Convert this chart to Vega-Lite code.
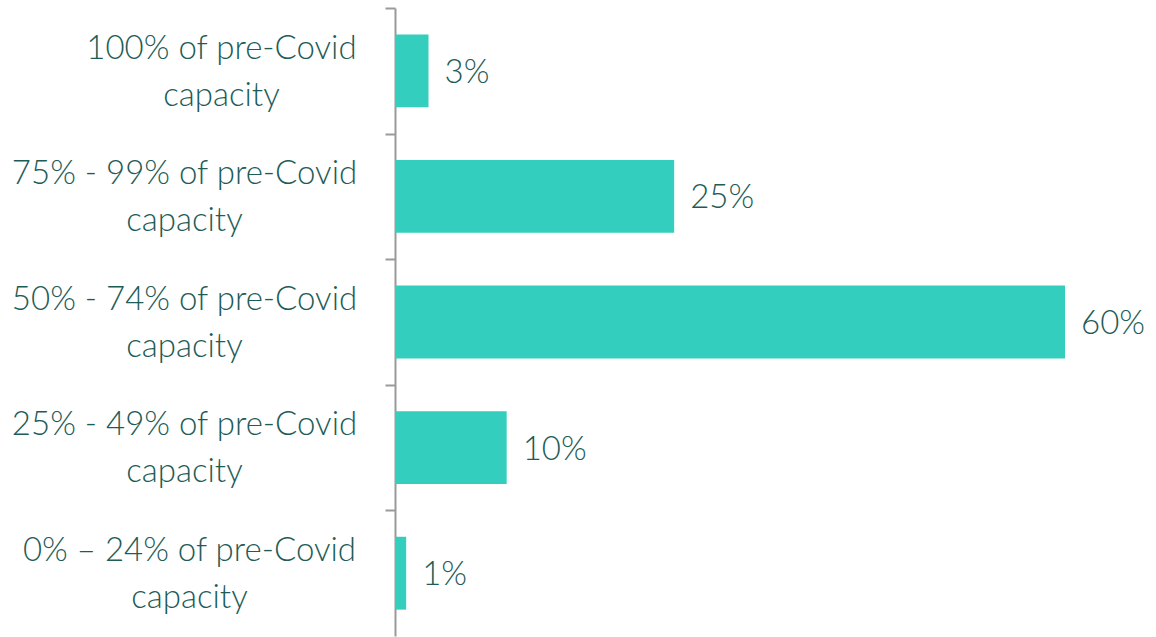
{
  "$schema": "https://vega.github.io/schema/vega-lite/v6.json",
  "autosize": {"type": "none"},
  "padding": {"left": 395, "top": 8, "right": 91, "bottom": 1},
  "width": 670,
  "height": 628,
  "background": "white",
  "config": {"view": {"stroke": null}, "font": "Lato"},
  "data": {"values": [
    {"cat": "100% of pre-Covid|capacity", "share": 0.03},
    {"cat": "75% - 99% of pre-Covid|capacity", "share": 0.25},
    {"cat": "50% - 74% of pre-Covid|capacity", "share": 0.60},
    {"cat": "25% - 49% of pre-Covid|capacity", "share": 0.10},
    {"cat": "0% – 24% of pre-Covid|capacity", "share": 0.01}
  ]},
  "encoding": {
    "y": {
      "field": "cat", "type": "nominal", "sort": null,
      "scale": {"paddingInner": 0.42, "paddingOuter": 0.21},
      "axis": {
        "title": null,
        "domainColor": "#9a9a9a", "domainWidth": 2,
        "tickColor": "#9a9a9a", "tickWidth": 2, "tickSize": 10,
        "tickOffset": -62.8,
        "labelOffset": 40,
        "labelExpr": "split(datum.label, '|')",
        "labelFont": "Lato", "labelFontSize": 33, "labelFontWeight": 300, "labelColor": "#1d5c57",
        "labelLineHeight": 47, "labelLimit": 0,
        "labelAlign": "center",
        "labelPadding": {
          "condition": [
            {"test": "indexof(datum.value, '100%') == 0", "value": 164},
            {"test": "indexof(datum.value, '0%') == 0", "value": 196}
          ],
          "value": 201
        }
      }
    },
    "x": {"field": "share", "type": "quantitative", "scale": {"domain": [0, 0.6]}, "axis": null}
  },
  "layer": [
    {"mark": {"type": "bar", "color": "#33cebd"}},
    {"mark": {"type": "text", "align": "left", "baseline": "middle", "dx": 16, "dy": 2, "font": "Lato", "fontSize": 33, "fontWeight": 300, "color": "#1d5c57"},
     "encoding": {"text": {"field": "share", "type": "quantitative", "format": ".0%"}}}
  ]
}
